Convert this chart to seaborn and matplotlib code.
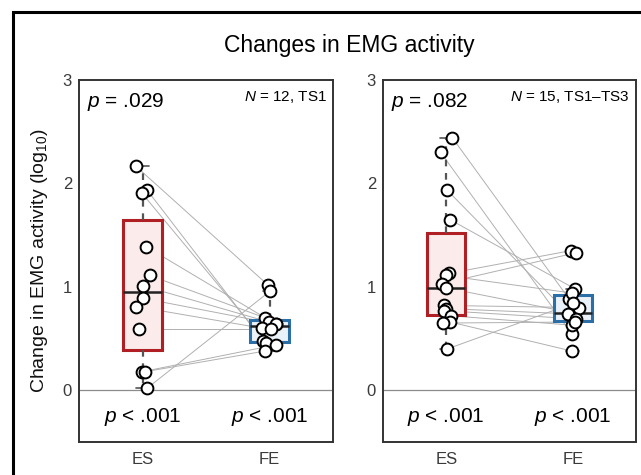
"""
Changes in EMG activity: paired ES / FE box plots for two sessions.
"""
import numpy as np
import pandas as pd
import matplotlib.pyplot as plt
from matplotlib.patches import Rectangle
import seaborn as sns

sns.set_theme(style='white')
plt.rcParams['font.family'] = ['Liberation Sans', 'DejaVu Sans']
plt.rcParams['mathtext.fontset'] = 'custom'
plt.rcParams['mathtext.rm'] = 'Liberation Sans'
plt.rcParams['mathtext.it'] = 'Liberation Sans:italic'

conditions = ['ES', 'FE']

# session TS1 (N = 12), paired per subject
ts1_es = [2.165, 1.94, 1.91, 1.39, 1.11, 1.01, 0.89, 0.81, 0.59, 0.18, 0.18, 0.02]
ts1_fe = [1.02, 0.48, 0.46, 0.64, 0.70, 0.66, 0.64, 0.60, 0.59, 0.44, 0.38, 0.96]

# sessions TS1-TS3 (N = 15), paired per subject
ts3_es = [2.44, 2.30, 1.94, 1.65, 1.13, 1.11, 1.03, 0.99, 0.82, 0.79, 0.77, 0.72,
          0.66, 0.65, 0.40]
ts3_fe = [0.88, 0.54, 0.72, 0.98, 1.35, 0.94, 1.33, 0.75, 0.80, 0.74, 0.69, 0.63,
          0.38, 0.66, 0.84]

panel_p = ['.029', '.082']
panel_n = ['$N$ = 12, TS1', '$N$ = 15, TS1\u2013TS3']
cond_p = ['< .001', '< .001']

box_edge = ['#b01f24', '#2c6ea6']
box_fill = ['#fbeceb', '#eaf1f8']


def box_stats(values):
    # MATLAB-style quartiles (hazen) and 1.5 IQR whiskers
    v = np.sort(np.asarray(values))
    q1, med, q3 = np.percentile(v, [25, 50, 75], method='hazen')
    iqr = q3 - q1
    lo = v[v >= q1 - 1.5 * iqr].min()
    hi = v[v <= q3 + 1.5 * iqr].max()
    return dict(med=med, q1=q1, q3=q3, whislo=lo, whishi=hi, fliers=[])


def draw_panel(ax, es, fe, p_text, n_text):
    df = pd.DataFrame({'cond': ['ES'] * len(es) + ['FE'] * len(fe),
                       'value': list(es) + list(fe)})
    ax.axhline(0, color='#8c8c8c', lw=0.9, zorder=1)
    sns.stripplot(data=df, x='cond', y='value', order=conditions, ax=ax,
                  jitter=0.06, size=8.5, color='white', edgecolor='black',
                  linewidth=1.4, zorder=5)
    es_xy = ax.collections[0].get_offsets()
    fe_xy = ax.collections[1].get_offsets()
    for a, b in zip(es_xy, fe_xy):
        ax.plot([a[0], b[0]], [a[1], b[1]], color='#b0b0b0', lw=0.7, zorder=2)

    for i, values in enumerate([es, fe]):
        ax.bxp([box_stats(values)], positions=[i], widths=0.3, capwidths=0.1,
               patch_artist=True, showfliers=False, manage_ticks=False,
               boxprops=dict(facecolor=box_fill[i], edgecolor=box_edge[i], lw=2.2),
               whiskerprops=dict(color='#555555', lw=1.6, linestyle=(0, (3, 3))),
               capprops=dict(color='#555555', lw=1.2),
               medianprops=dict(color='#222222', lw=1.8),
               zorder=3)

    ax.set_xlim(-0.5, 1.5)
    ax.set_ylim(-0.5, 3)
    ax.set_yticks([0, 1, 2, 3])
    ax.set_xticks([0, 1])
    ax.set_xticklabels(conditions)
    ax.set_xlabel('')
    ax.set_ylabel('')
    ax.tick_params(axis='both', length=0, labelsize=12, colors='#3a3a3a', pad=5)
    ax.tick_params(axis='x', pad=7)
    for spine in ax.spines.values():
        spine.set_color('#333333')
        spine.set_linewidth(1.4)

    ax.text(0.03, 2.79, '$p$ = ' + p_text, transform=ax.get_yaxis_transform(),
            ha='left', va='center', fontsize=15, color='black')
    ax.text(0.975, 2.84, n_text, transform=ax.get_yaxis_transform(),
            ha='right', va='center', fontsize=11, color='black')
    for i, t in enumerate(cond_p):
        ax.text(i, -0.26, '$p$ ' + t, ha='center', va='center', fontsize=15,
                color='black')


np.random.seed(7)
fig = plt.figure(figsize=(6.41, 4.75), dpi=100)
ax1 = fig.add_axes([79 / 641, 1 - 442 / 475, 254 / 641, 362 / 475])
ax2 = fig.add_axes([383 / 641, 1 - 442 / 475, 253 / 641, 362 / 475])

draw_panel(ax1, ts1_es, ts1_fe, panel_p[0], panel_n[0])
draw_panel(ax2, ts3_es, ts3_fe, panel_p[1], panel_n[1])

ax1.set_ylabel('Change in EMG activity (log$_{10}$)', fontsize=14,
               color='#111111', labelpad=9)

fig.text(0.545, 0.905, 'Changes in EMG activity', ha='center', va='center',
         fontsize=16.5, color='black')

fig.add_artist(Rectangle((13 / 641, -0.2), 1.2, 1.2 - 12 / 475, fill=False,
                         lw=2.2, edgecolor='black', transform=fig.transFigure,
                         clip_on=False))

fig.savefig('out.png', dpi=100)
